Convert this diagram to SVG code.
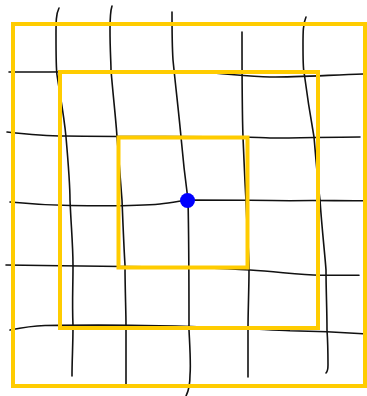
<svg xmlns="http://www.w3.org/2000/svg" width="367" height="396" viewBox="0 0 367 396">
<style>
.g{fill:none;stroke:#111;stroke-width:1.6;stroke-linecap:round;stroke-linejoin:round}
.sq{fill:none;stroke:#FFCC00;stroke-width:4}
</style>
<rect width="367" height="396" fill="#fff"/>
<g id="grid">
<path class="g" d="M59,8 C56,14 56,22 56,35 C56,55 56,68 57,75 C60,95 64,115 66,137 C68,160 70,185 70,200 C71,225 73,245 73,265 C73,290 72,300 73,326 C73,345 72,360 72,376"/>
<path class="g" d="M112,6 C110,12 110,18 110,30 C110,50 111,62 111,70 C113,95 116,120 117,137 C119,160 121,185 122,200 C123,225 124,250 125,265 C125,290 126,310 126,326 C126,345 126,365 126,384"/>
<path class="g" d="M172,12 C172,30 172,45 173,60 C176,90 179,115 181,137 C183,160 186,185 188,200 C189,240 189,290 189,330 C190,350 191,365 190,375 C190,385 188,392 186,396"/>
<path class="g" d="M242,32 C242,70 242,110 243,137 C244,160 245,185 246,200 C247,230 249,255 249,270 C249,290 248,310 248,330 C248,345 248,365 248,377"/>
<path class="g" d="M306,17 C303,24 303,32 303,45 C303,60 303,68 304,72 C307,95 311,120 314,137 C316,160 318,185 320,200 C322,230 325,255 326,270 C326,290 327,310 327,330 C328,345 328,360 328,365 C328,370 327,372 326,373"/>
<path class="g" d="M9,72 C80,72 150,71 200,72 C230,74 250,77 270,77 C300,77 330,75 363,74"/>
<path class="g" d="M7,132 C25,134 45,136 65,136 C150,137 250,136 270,138 C300,138 330,137 360,137"/>
<path class="g" d="M10,202 C30,204 45,205 70,205.5 C100,206 140,206 160,204 C170,203 180,201 187,200 C220,200 260,200 290,200.7 C320,200 340,201 363,200.7"/>
<path class="g" d="M6,265 C40,265.5 90,266 122,266.5 C170,267 220,268 250,270 C280,272 300,275 320,275.3 C335,275.3 350,275.3 359,275.3"/>
<path class="g" d="M10,330 C20,328 30,326 45,325.5 C80,325 110,325 130,325.3 C200,326 250,329 290,330.7 C320,331 340,332 363,333.7"/>
</g>
<g id="outer"><rect class="sq" x="13" y="24" width="352" height="362"/></g>
<g id="middle"><rect class="sq" x="60" y="72" width="258" height="256"/></g>
<g id="inner"><rect class="sq" x="118.5" y="137.5" width="129" height="130"/></g>
<g id="point"><circle cx="187.5" cy="200.5" r="7.5" fill="#0000FF"/></g>
</svg>
